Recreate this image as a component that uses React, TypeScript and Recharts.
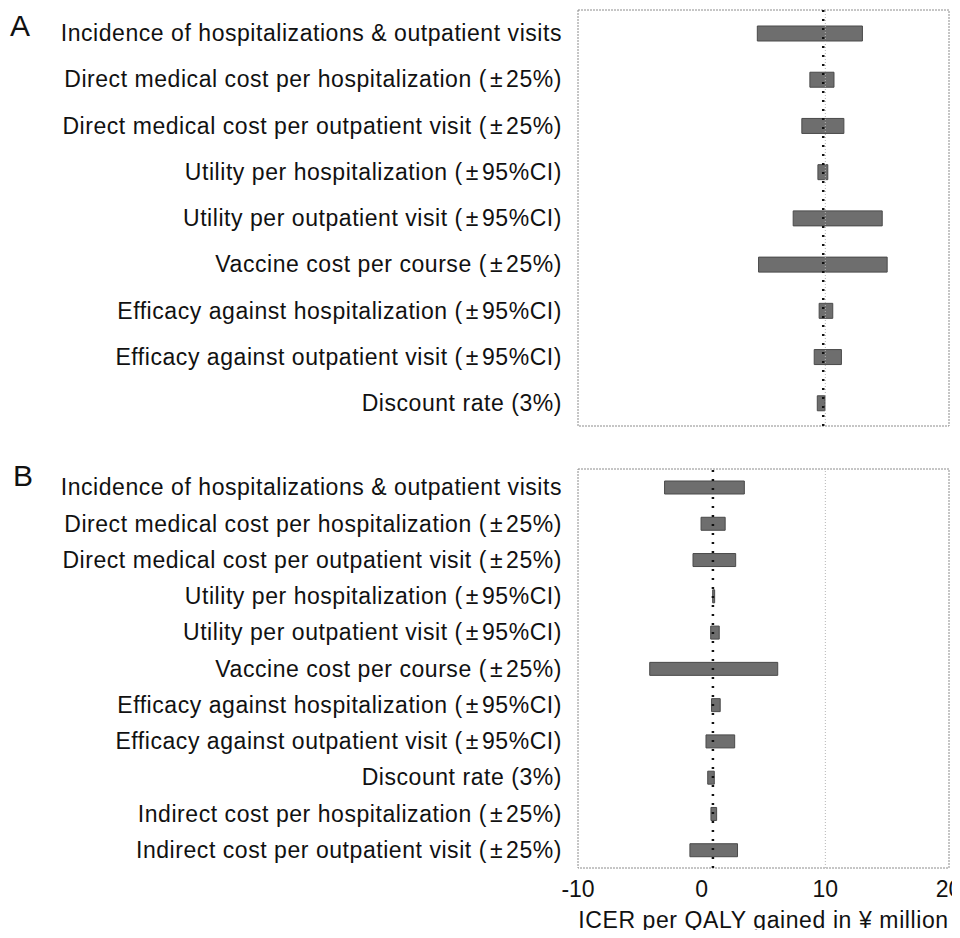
import {
  BarChart,
  Bar,
  XAxis,
  YAxis,
  ReferenceLine,
  ReferenceArea,
} from 'recharts'

// parameters shown in panel A and panel B
const paramsA = [
  'Incidence of hospitalizations & outpatient visits',
  'Direct medical cost per hospitalization (\u00b125%)',
  'Direct medical cost per outpatient visit (\u00b125%)',
  'Utility per hospitalization (\u00b195%CI)',
  'Utility per outpatient visit (\u00b195%CI)',
  'Vaccine cost per course (\u00b125%)',
  'Efficacy against hospitalization (\u00b195%CI)',
  'Efficacy against outpatient visit (\u00b195%CI)',
  'Discount rate (3%)',
]
const paramsB = [
  ...paramsA,
  'Indirect cost per hospitalization (\u00b125%)',
  'Indirect cost per outpatient visit (\u00b125%)',
]

// ICER range (low, high) in ¥ million per QALY
const lowA = [4.5, 8.75, 8.1, 9.4, 7.4, 4.6, 9.5, 9.1, 9.35]
const highA = [13.0, 10.7, 11.5, 10.2, 14.6, 15.0, 10.6, 11.3, 9.97]
const lowB = [-3.0, -0.05, -0.7, 0.89, 0.73, -4.2, 0.8, 0.35, 0.49, 0.75, -0.95]
const highB = [3.45, 1.9, 2.75, 1.05, 1.42, 6.15, 1.5, 2.67, 1.02, 1.21, 2.9]

const baseA = 9.83
const baseB = 0.91
const xTicks = [-10, 0, 10, 20]

const dataA = paramsA.map((name, i) => ({ name, range: [lowA[i], highA[i]] }))
const dataB = paramsB.map((name, i) => ({ name, range: [lowB[i], highB[i]] }))

const font = '"Liberation Sans", Arial, Helvetica, sans-serif'

// y labels: the ± sign sits a little apart, like the full-width sign in the original
function LabelTick(props: any) {
  const { x, y, payload } = props
  const parts = String(payload.value).split('\u00b1')
  return (
    <text
      x={x}
      y={y}
      dy="0.355em"
      textAnchor="end"
      fontSize={23}
      fill="#111"
      fontFamily={font}
      letterSpacing={0.55}
    >
      {parts.length === 1 ? (
        parts[0]
      ) : (
        <>
          <tspan>{parts[0]}</tspan>
          <tspan dx={3}>{'\u00b1'}</tspan>
          <tspan dx={3}>{parts[1]}</tspan>
        </>
      )}
    </text>
  )
}

function Panel({
  data,
  base,
  height,
  top,
  barSize,
  showAxis,
}: {
  data: { name: string; range: number[] }[]
  base: number
  height: number
  top: number
  barSize: number
  showAxis: boolean
}) {
  return (
    <BarChart
      layout="vertical"
      width={960}
      height={height}
      data={data}
      margin={{ top, right: 11, bottom: showAxis ? 0 : height - top - 416, left: 0 }}
      barCategoryGap={0}
    >
      <XAxis
        type="number"
        domain={[-10, 20]}
        ticks={xTicks}
        allowDataOverflow
        hide={!showAxis}
        height={70}
        axisLine={false}
        tickLine={false}
        tickSize={0}
        tickMargin={13}
        tick={{ fontSize: 23, fill: '#111', fontFamily: font }}
        label={{
          value: 'ICER per QALY gained in \u00a5 million',
          position: 'insideBottom',
          offset: 10,
          style: { fontSize: 23, fill: '#111', fontFamily: font, letterSpacing: 0.6 },
        }}
      />
      <YAxis
        type="category"
        dataKey="name"
        width={578}
        axisLine={false}
        tickLine={false}
        tickSize={0}
        tickMargin={16}
        interval={0}
        tick={<LabelTick />}
      />
      <ReferenceArea x1={-10} x2={20} fill="none" stroke="#8c8c8c" strokeDasharray="2 1" />
      <ReferenceLine x={10} stroke="#b5b5b5" strokeDasharray="1 2" />
      <Bar
        dataKey="range"
        fill="#6e6e6e"
        stroke="#4a4a4a"
        strokeWidth={1}
        barSize={barSize}
        isAnimationActive={false}
      />
      <ReferenceLine x={base} stroke="#111" strokeWidth={2.5} strokeDasharray="2 7" />
    </BarChart>
  )
}

export default function App() {
  const letter = {
    position: 'absolute' as const,
    fontFamily: font,
    fontSize: 30,
    lineHeight: 1,
    color: '#111',
  }
  return (
    <div style={{ position: 'relative', margin: -8, width: 960, height: 938, background: '#fff' }}>
      <div style={{ position: 'absolute', left: 0, top: 0 }}>
        <Panel data={dataA} base={baseA} height={440} top={10} barSize={15} showAxis={false} />
      </div>
      <div style={{ position: 'absolute', left: 0, top: 440 }}>
        <Panel data={dataB} base={baseB} height={498} top={29} barSize={13} showAxis />
      </div>
      <div style={{ ...letter, left: 10, top: 11 }}>A</div>
      <div style={{ ...letter, left: 13, top: 461 }}>B</div>
    </div>
  )
}
